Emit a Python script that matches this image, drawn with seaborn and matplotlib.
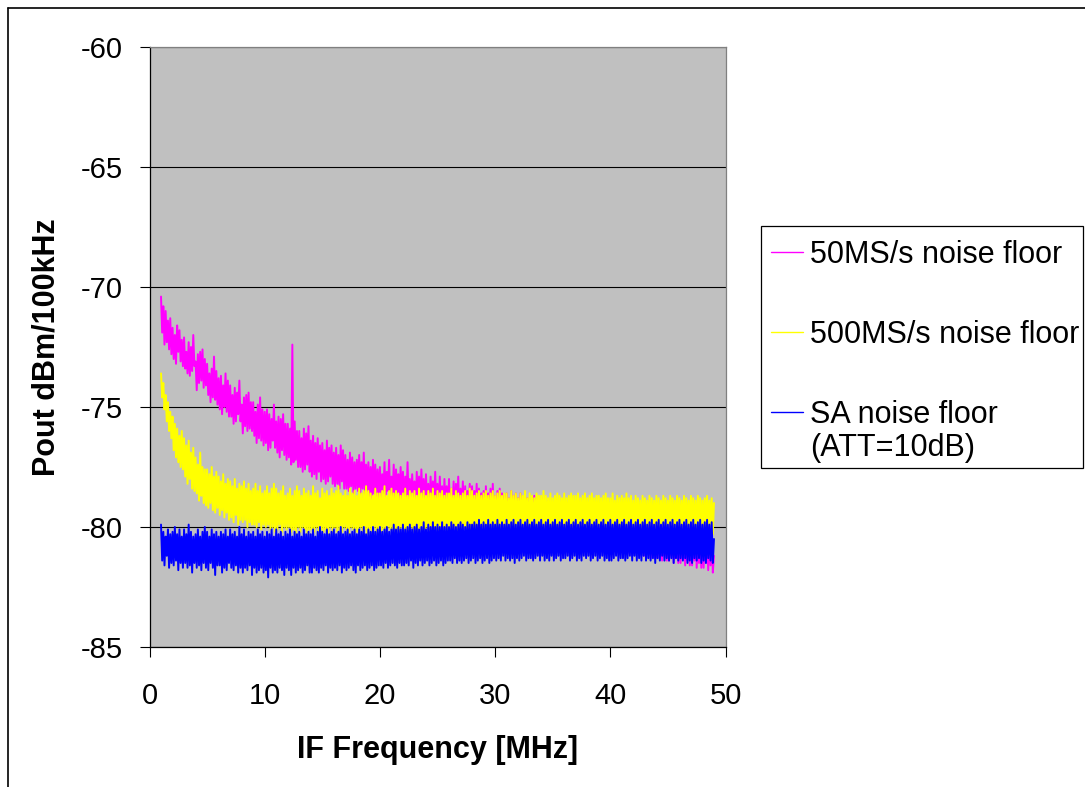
import numpy as np
import pandas as pd
import matplotlib
matplotlib.use("Agg")
import matplotlib.pyplot as plt
from matplotlib.lines import Line2D
from matplotlib.patches import Rectangle
import seaborn as sns

# --- datos (dBm/100kHz), paso de 0.1 MHz desde 1 MHz ---
# cada renglon = 1 MHz
freq_inicio = 1.0
freq_paso = 0.1

ruido_50ms = [
    -70.4, -71.9, -70.8, -72.4, -71.0, -72.3, -71.4, -72.6, -71.3, -72.8,
    -71.7, -73.0, -72.0, -73.2, -71.6, -72.7, -71.8, -73.1, -72.2, -73.3,
    -72.1, -73.4, -72.7, -73.6, -72.3, -73.7, -72.5, -73.5, -72.0, -73.3,
    -73.1, -74.3, -72.8, -74.0, -72.7, -73.9, -72.6, -74.2, -73.0, -74.1,
    -73.2, -74.5, -73.6, -74.8, -73.4, -74.6, -72.9, -74.7, -73.5, -74.9,
    -73.8, -75.1, -73.7, -75.3, -74.1, -75.0, -73.6, -75.2, -73.9, -75.4,
    -74.1, -75.4, -74.5, -75.7, -74.2, -75.6, -74.4, -75.3, -73.9, -75.6,
    -74.9, -76.1, -74.6, -75.8, -74.5, -76.0, -74.4, -75.9, -74.8, -76.0,
    -74.8, -76.2, -75.2, -76.5, -74.9, -76.3, -74.6, -76.4, -75.1, -76.6,
    -75.2, -76.5, -75.1, -76.8, -75.3, -76.7, -75.5, -76.4, -74.9, -76.7,
    -75.6, -76.9, -75.4, -77.1, -75.5, -76.8, -75.3, -77.0, -75.7, -77.2,
    -75.7, -77.1, -75.9, -77.4, -72.4, -77.3, -75.6, -77.2, -76.0, -77.5,
    -76.0, -77.5, -76.3, -77.7, -75.9, -77.6, -76.1, -77.4, -75.8, -77.7,
    -76.4, -77.9, -76.2, -77.8, -76.5, -78.0, -76.3, -77.7, -76.6, -78.1,
    -76.5, -78.0, -76.8, -78.2, -76.4, -78.1, -76.7, -77.9, -76.6, -78.2,
    -76.9, -78.3, -76.7, -78.2, -77.0, -78.4, -76.6, -78.1, -76.8, -78.4,
    -77.0, -78.4, -77.2, -78.5, -76.9, -78.3, -77.1, -78.6, -77.3, -78.4,
    -77.2, -78.5, -77.0, -78.6, -77.3, -78.4, -76.9, -78.6, -77.4, -78.5,
    -77.3, -78.7, -77.5, -78.8, -77.2, -78.6, -77.4, -78.7, -77.6, -78.8,
    -77.5, -78.9, -77.8, -78.6, -77.3, -78.8, -77.7, -78.5, -77.2, -78.9,
    -77.9, -78.7, -77.4, -79.0, -77.6, -78.6, -77.8, -79.1, -77.5, -78.8,
    -77.7, -79.1, -77.9, -78.8, -77.3, -79.0, -78.0, -79.2, -77.8, -78.9,
    -78.1, -79.2, -77.7, -79.0, -77.9, -79.3, -77.6, -78.9, -78.0, -79.2,
    -77.8, -79.1, -78.2, -79.4, -77.9, -79.0, -78.1, -79.3, -77.7, -79.2,
    -78.2, -79.4, -77.9, -79.2, -78.3, -79.5, -78.0, -79.1, -78.3, -79.4,
    -78.0, -79.5, -78.4, -79.3, -78.1, -79.6, -78.2, -79.2, -77.9, -79.5,
    -78.4, -79.4, -78.1, -79.6, -78.3, -79.7, -78.5, -79.3, -78.2, -79.6,
    -78.3, -79.7, -78.5, -79.5, -78.2, -79.8, -78.4, -79.6, -78.6, -79.7,
    -78.5, -79.8, -78.3, -79.6, -78.6, -79.9, -78.4, -79.7, -78.2, -79.8,
    -78.7, -79.9, -78.5, -79.7, -78.4, -80.0, -78.6, -79.8, -78.7, -80.0,
    -78.6, -80.0, -78.8, -79.8, -78.5, -80.1, -78.7, -79.9, -78.6, -80.1,
    -78.8, -80.1, -78.6, -79.9, -78.9, -80.2, -78.7, -80.0, -78.8, -80.2,
    -78.9, -80.2, -78.8, -80.0, -78.7, -80.3, -79.0, -80.1, -78.9, -80.3,
    -79.0, -80.3, -78.8, -80.1, -79.1, -80.4, -78.9, -80.2, -79.0, -80.4,
    -79.1, -80.4, -79.0, -80.2, -78.9, -80.5, -79.2, -80.3, -79.1, -80.5,
    -79.2, -80.5, -79.0, -80.3, -79.3, -80.6, -79.1, -80.4, -79.2, -80.6,
    -79.3, -80.6, -79.2, -80.4, -79.1, -80.7, -79.4, -80.5, -79.3, -80.7,
    -79.4, -80.7, -79.2, -80.5, -79.5, -80.8, -79.3, -80.6, -79.4, -80.8,
    -79.5, -80.8, -79.4, -80.6, -79.3, -80.9, -79.6, -80.7, -79.5, -80.9,
    -79.6, -80.9, -79.4, -80.7, -79.7, -81.0, -79.5, -80.8, -79.6, -81.0,
    -79.7, -81.0, -79.6, -80.8, -79.5, -81.1, -79.8, -80.9, -79.7, -81.1,
    -79.8, -81.1, -79.6, -80.9, -79.9, -81.2, -79.7, -81.0, -79.8, -81.2,
    -79.9, -81.2, -79.8, -81.0, -79.7, -81.3, -80.0, -81.1, -79.9, -81.3,
    -80.0, -81.3, -79.8, -81.1, -80.1, -81.4, -79.9, -81.2, -80.0, -81.4,
    -80.1, -81.4, -80.0, -81.2, -79.9, -81.5, -80.2, -81.3, -80.1, -81.5,
    -80.2, -81.5, -80.0, -81.3, -80.3, -81.6, -80.1, -81.4, -80.2, -81.6,
    -80.3, -81.6, -80.2, -81.4, -80.1, -81.7, -80.4, -81.5, -80.3, -81.7,
    -80.4, -81.7, -80.2, -81.5, -80.5, -81.8, -80.3, -81.6, -80.4, -81.9,
    -81.2,
]

ruido_500ms = [
    -73.6, -74.6, -74.0, -75.1, -74.5, -75.6, -74.8, -76.0, -75.2, -76.3,
    -75.4, -76.8, -75.7, -77.1, -75.9, -77.3, -76.2, -77.5, -76.0, -77.6,
    -76.3, -77.9, -76.6, -78.2, -76.4, -78.0, -76.9, -78.4, -76.7, -78.5,
    -77.1, -78.6, -77.4, -78.9, -76.9, -78.7, -77.5, -79.0, -77.6, -79.1,
    -77.6, -79.2, -77.8, -79.0, -77.5, -79.3, -77.9, -79.4, -77.7, -79.2,
    -77.9, -79.5, -78.1, -79.3, -77.8, -79.6, -78.2, -79.4, -78.0, -79.7,
    -78.1, -79.6, -78.3, -79.8, -78.0, -79.5, -78.4, -79.9, -78.2, -79.7,
    -78.3, -79.8, -78.1, -79.7, -78.4, -80.0, -78.2, -79.8, -78.5, -79.9,
    -78.4, -79.9, -78.2, -80.0, -78.5, -79.8, -78.3, -80.1, -78.6, -79.9,
    -78.5, -80.0, -78.3, -79.9, -78.6, -80.1, -78.4, -80.0, -78.2, -80.2,
    -78.4, -80.1, -78.6, -79.9, -78.5, -80.2, -78.3, -80.0, -78.7, -80.1,
    -78.6, -80.0, -78.4, -80.2, -78.7, -80.1, -78.5, -80.3, -78.3, -80.0,
    -78.5, -80.2, -78.7, -80.0, -78.4, -80.1, -78.6, -80.3, -78.5, -80.1,
    -78.7, -80.1, -78.3, -80.2, -78.6, -80.0, -78.5, -80.2, -78.8, -80.1,
    -78.4, -80.2, -78.6, -80.1, -78.5, -80.3, -78.7, -80.0, -78.4, -80.2,
    -78.6, -80.0, -78.5, -80.2, -78.3, -80.1, -78.6, -80.2, -78.7, -80.0,
    -78.5, -80.1, -78.7, -80.3, -78.4, -80.0, -78.6, -80.1, -78.5, -80.2,
    -78.7, -80.2, -78.4, -80.0, -78.6, -80.2, -78.5, -80.1, -78.3, -80.3,
    -78.5, -80.1, -78.6, -80.2, -78.7, -80.0, -78.4, -80.2, -78.6, -80.1,
    -78.6, -80.2, -78.5, -80.1, -78.3, -80.2, -78.7, -80.0, -78.5, -80.1,
    -78.4, -80.1, -78.6, -80.3, -78.5, -80.1, -78.6, -80.2, -78.7, -80.0,
    -78.6, -80.2, -78.4, -80.1, -78.7, -80.2, -78.5, -80.0, -78.6, -80.2,
    -78.5, -80.1, -78.7, -80.2, -78.4, -80.1, -78.6, -80.3, -78.5, -80.1,
    -78.7, -80.0, -78.5, -80.2, -78.6, -80.1, -78.4, -80.2, -78.7, -80.1,
    -78.5, -80.2, -78.6, -80.1, -78.5, -80.2, -78.7, -80.0, -78.6, -80.2,
    -78.6, -80.1, -78.4, -80.2, -78.7, -80.1, -78.5, -80.2, -78.6, -80.0,
    -78.7, -80.2, -78.6, -80.1, -78.5, -80.3, -78.7, -80.1, -78.4, -80.2,
    -78.5, -80.1, -78.7, -80.2, -78.6, -80.0, -78.5, -80.2, -78.7, -80.1,
    -78.6, -80.2, -78.5, -80.1, -78.7, -80.2, -78.6, -80.1, -78.5, -80.2,
    -78.7, -80.1, -78.6, -80.3, -78.5, -80.1, -78.7, -80.2, -78.6, -80.1,
    -78.6, -80.2, -78.8, -80.1, -78.5, -80.2, -78.7, -80.3, -78.6, -80.1,
    -78.8, -80.1, -78.6, -80.2, -78.7, -80.1, -78.5, -80.2, -78.8, -80.3,
    -78.6, -80.2, -78.7, -80.3, -78.8, -80.1, -78.6, -80.2, -78.7, -80.1,
    -78.7, -80.3, -78.5, -80.2, -78.7, -80.1, -78.8, -80.2, -78.6, -80.3,
    -78.8, -80.1, -78.7, -80.2, -78.6, -80.3, -78.7, -80.1, -78.8, -80.2,
    -78.6, -80.2, -78.8, -80.3, -78.7, -80.2, -78.6, -80.1, -78.7, -80.3,
    -78.7, -80.3, -78.6, -80.2, -78.8, -80.1, -78.7, -80.3, -78.6, -80.2,
    -78.8, -80.2, -78.7, -80.3, -78.6, -80.2, -78.8, -80.1, -78.7, -80.3,
    -78.7, -80.3, -78.8, -80.2, -78.7, -80.3, -78.6, -80.2, -78.8, -80.1,
    -78.8, -80.2, -78.6, -80.3, -78.9, -80.2, -78.7, -80.3, -78.8, -80.2,
    -78.7, -80.3, -78.8, -80.2, -78.6, -80.4, -78.8, -80.2, -78.7, -80.3,
    -78.9, -80.2, -78.7, -80.3, -78.8, -80.2, -78.9, -80.4, -78.7, -80.2,
    -78.8, -80.3, -78.9, -80.2, -78.7, -80.3, -78.8, -80.4, -78.9, -80.2,
    -78.7, -80.4, -78.8, -80.3, -78.9, -80.2, -78.7, -80.3, -78.8, -80.4,
    -78.9, -80.3, -78.7, -80.4, -78.8, -80.2, -78.9, -80.3, -78.7, -80.4,
    -78.8, -80.3, -78.9, -80.2, -78.7, -80.4, -78.8, -80.3, -78.9, -80.2,
    -78.7, -80.4, -78.8, -80.3, -78.9, -80.4, -78.7, -80.3, -78.8, -80.4,
    -78.9, -80.3, -78.8, -80.4, -78.7, -80.3, -78.9, -80.4, -78.8, -80.3,
    -79.0,
]

ruido_sa = [
    -79.9, -81.4, -80.2, -81.6, -80.4, -81.2, -80.1, -81.7, -80.3, -81.5,
    -80.2, -81.6, -80.0, -81.4, -80.3, -81.8, -80.1, -81.5, -80.4, -81.7,
    -80.1, -81.5, -80.3, -81.7, -79.9, -81.6, -80.2, -81.9, -80.4, -81.5,
    -80.3, -81.7, -80.1, -81.6, -80.4, -81.8, -80.2, -81.5, -80.0, -81.7,
    -80.2, -81.8, -80.4, -81.5, -80.1, -81.7, -80.3, -82.0, -80.2, -81.6,
    -80.4, -81.6, -80.2, -81.9, -80.3, -81.7, -80.1, -81.8, -80.4, -81.5,
    -80.1, -81.7, -80.3, -81.8, -80.2, -81.6, -80.4, -81.9, -80.0, -81.7,
    -80.3, -81.9, -80.1, -81.7, -80.4, -81.8, -80.2, -81.6, -80.3, -82.0,
    -80.2, -81.7, -80.4, -81.9, -80.1, -81.8, -80.3, -81.7, -80.2, -81.9,
    -80.4, -81.8, -80.2, -82.1, -80.3, -81.7, -80.1, -81.9, -80.4, -81.8,
    -80.1, -81.9, -80.3, -81.7, -80.2, -81.8, -80.4, -82.0, -80.2, -81.7,
    -80.3, -81.8, -80.1, -82.0, -80.4, -81.7, -80.2, -81.9, -80.3, -81.8,
    -80.2, -81.7, -80.4, -81.9, -80.1, -81.8, -80.3, -81.6, -80.2, -81.9,
    -80.3, -81.9, -80.1, -81.7, -80.4, -81.8, -80.2, -81.9, -80.0, -81.7,
    -80.2, -81.8, -80.3, -81.6, -80.1, -81.9, -80.3, -81.7, -80.2, -81.8,
    -80.1, -81.7, -80.3, -81.8, -80.2, -81.6, -80.0, -81.9, -80.3, -81.7,
    -80.2, -81.8, -80.1, -81.7, -80.3, -81.6, -80.2, -81.8, -80.1, -81.9,
    -80.3, -81.6, -80.1, -81.8, -80.2, -81.7, -80.0, -81.6, -80.3, -81.8,
    -80.1, -81.7, -80.2, -81.6, -80.0, -81.8, -80.2, -81.7, -80.1, -81.6,
    -80.0, -81.6, -80.2, -81.7, -80.1, -81.5, -80.0, -81.7, -80.2, -81.6,
    -80.1, -81.5, -79.9, -81.6, -80.1, -81.7, -80.0, -81.5, -80.1, -81.6,
    -79.9, -81.6, -80.1, -81.5, -80.0, -81.6, -79.9, -81.4, -80.1, -81.7,
    -80.0, -81.5, -79.9, -81.6, -80.1, -81.4, -80.0, -81.6, -79.8, -81.5,
    -80.1, -81.4, -79.9, -81.6, -80.0, -81.5, -79.8, -81.4, -80.0, -81.6,
    -79.9, -81.5, -80.0, -81.4, -79.8, -81.6, -80.0, -81.5, -79.9, -81.4,
    -80.0, -81.4, -79.8, -81.5, -79.9, -81.3, -80.0, -81.5, -79.9, -81.4,
    -79.8, -81.5, -79.9, -81.4, -80.0, -81.3, -79.8, -81.5, -79.9, -81.4,
    -79.9, -81.3, -79.8, -81.5, -79.9, -81.4, -79.7, -81.3, -79.9, -81.5,
    -79.8, -81.4, -79.9, -81.3, -79.7, -81.5, -79.9, -81.4, -79.8, -81.3,
    -79.9, -81.4, -79.7, -81.3, -79.9, -81.4, -79.8, -81.2, -79.9, -81.4,
    -79.7, -81.3, -79.9, -81.4, -79.8, -81.3, -79.7, -81.5, -79.9, -81.3,
    -79.8, -81.4, -79.7, -81.3, -79.9, -81.2, -79.8, -81.4, -79.7, -81.3,
    -79.9, -81.3, -79.8, -81.4, -79.7, -81.3, -79.9, -81.2, -79.8, -81.4,
    -79.7, -81.2, -79.9, -81.4, -79.8, -81.3, -79.7, -81.4, -79.9, -81.2,
    -79.8, -81.4, -79.7, -81.3, -79.9, -81.2, -79.8, -81.4, -79.7, -81.3,
    -79.9, -81.3, -79.8, -81.2, -79.7, -81.4, -79.9, -81.3, -79.8, -81.2,
    -79.7, -81.4, -79.9, -81.3, -79.8, -81.4, -79.7, -81.2, -79.9, -81.3,
    -79.8, -81.2, -79.7, -81.4, -79.9, -81.3, -79.8, -81.2, -79.7, -81.4,
    -79.9, -81.3, -79.8, -81.2, -79.7, -81.4, -79.9, -81.3, -79.8, -81.4,
    -79.7, -81.4, -79.9, -81.3, -79.8, -81.2, -79.7, -81.4, -79.9, -81.3,
    -79.8, -81.3, -79.7, -81.4, -79.9, -81.3, -79.8, -81.2, -79.7, -81.4,
    -79.9, -81.2, -79.8, -81.4, -79.7, -81.3, -79.9, -81.4, -79.8, -81.2,
    -79.7, -81.4, -79.9, -81.3, -79.8, -81.4, -79.7, -81.3, -79.9, -81.5,
    -79.8, -81.3, -79.7, -81.4, -79.9, -81.2, -79.8, -81.4, -79.7, -81.3,
    -79.9, -81.4, -79.8, -81.3, -79.7, -81.5, -79.9, -81.3, -79.8, -81.4,
    -79.7, -81.3, -79.9, -81.4, -79.8, -81.3, -79.7, -81.5, -79.9, -81.4,
    -79.8, -81.5, -79.7, -81.3, -79.9, -81.4, -79.8, -81.3, -79.7, -81.5,
    -79.9, -81.4, -79.8, -81.5, -79.7, -81.3, -79.9, -81.4, -79.8, -81.5,
    -80.5,
]

series_nombres = ["50MS/s noise floor", "500MS/s noise floor", "SA noise floor\n(ATT=10dB)"]
series_colores = ["#FF00FF", "#FFFF00", "#0000FF"]
y_ticks = [-85, -80, -75, -70, -65, -60]
x_ticks = [0, 10, 20, 30, 40, 50]

# --- armar el dataframe largo ---
partes = []
for nombre, valores in zip(series_nombres, [ruido_50ms, ruido_500ms, ruido_sa]):
    frec = freq_inicio + freq_paso * np.arange(len(valores))
    partes.append(pd.DataFrame({"freq": frec, "pout": valores, "serie": nombre}))
df = pd.concat(partes, ignore_index=True)

sns.set_theme(style="white")
plt.rcParams["font.family"] = ["Liberation Sans", "DejaVu Sans"]
plt.rcParams["axes.unicode_minus"] = False
plt.rcParams["text.color"] = "black"
plt.rcParams["axes.labelcolor"] = "black"
plt.rcParams["xtick.color"] = "black"
plt.rcParams["ytick.color"] = "black"

fig = plt.figure(figsize=(10.85, 7.87), dpi=100)
ax = fig.add_axes([149.5 / 1085, 1 - 647 / 787, 576 / 1085, 600 / 787])
ax.set_facecolor("#C0C0C0")

sns.lineplot(data=df, x="freq", y="pout", hue="serie", hue_order=series_nombres,
             palette=dict(zip(series_nombres, series_colores)), estimator=None,
             sort=False, linewidth=1.4, legend=False, ax=ax)

ax.set_xlim(0, 50)
ax.set_ylim(-85, -60)
ax.set_xticks(x_ticks)
ax.set_yticks(y_ticks)
ax.yaxis.grid(True, color="black", linewidth=0.8)
ax.set_axisbelow(True)
ax.tick_params(axis="both", direction="out", length=7, width=0.8, color="black",
               labelsize=21, left=True, bottom=True)
ax.tick_params(axis="x", pad=18)
ax.tick_params(axis="y", pad=12)
for lado in ["left", "bottom"]:
    ax.spines[lado].set_color("black")
    ax.spines[lado].set_linewidth(0.9)
for lado in ["top", "right"]:
    ax.spines[lado].set_color("#808080")
    ax.spines[lado].set_linewidth(0.9)

ax.set_xlabel("IF Frequency [MHz]", fontsize=22, fontweight="bold", labelpad=18)
ax.set_ylabel("Pout dBm/100kHz", fontsize=22, fontweight="bold", labelpad=14)

# --- leyenda a mano, como en Excel ---
W, H = 1085, 787
fig.add_artist(Rectangle((761 / W, 1 - 468 / H), (1083 - 761) / W, (468 - 226) / H,
                         transform=fig.transFigure, fill=False, edgecolor="black", linewidth=0.9))
for nombre, color, y_linea in zip(series_nombres, series_colores, [252, 332, 412]):
    fig.add_artist(Line2D([771 / W, 803 / W], [1 - y_linea / H] * 2,
                          transform=fig.transFigure, color=color, linewidth=1))
    for k, renglon in enumerate(nombre.split("\n")):
        fig.text(810 / W, 1 - (y_linea + 11 + 33 * k) / H, renglon, fontsize=22,
                 ha="left", va="baseline")

# borde del area del grafico
fig.add_artist(Line2D([8 / W, 1], [1 - 8 / H] * 2, transform=fig.transFigure, color="black", linewidth=1.2))
fig.add_artist(Line2D([8 / W, 8 / W], [0, 1 - 8 / H], transform=fig.transFigure, color="black", linewidth=1.2))

fig.savefig("out.png", dpi=100)
